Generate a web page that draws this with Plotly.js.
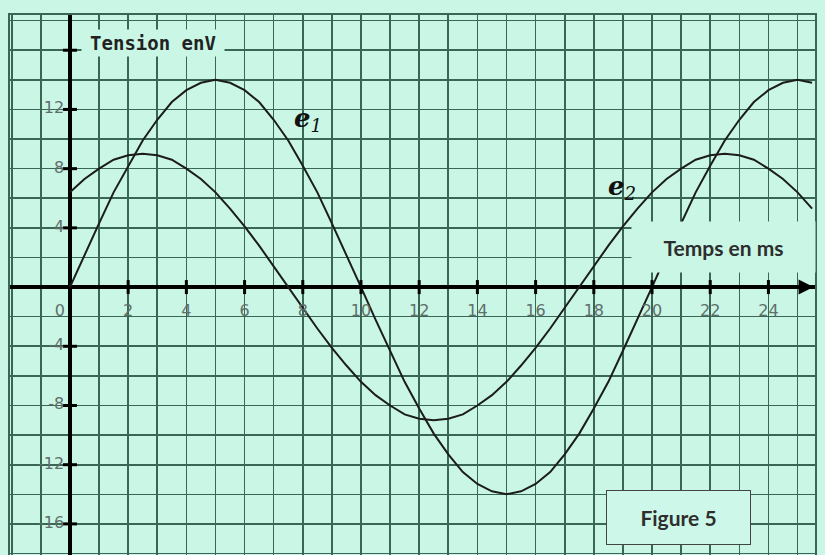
<!DOCTYPE html>
<html>
<head>
<meta charset="utf-8">
<script src="https://cdn.plot.ly/plotly-3.0.1.min.js"></script>
<style>
  html, body { margin: 0; padding: 0; background: #c9f6e5; }
  #chart { width: 825px; height: 555px; }
</style>
</head>
<body>
<div id="chart"></div>
<script>
// Time in ms (read every 0.5 ms)
const time = [0,0.5,1,1.5,2,2.5,3,3.5,4,4.5,5,5.5,6,6.5,7,7.5,8,8.5,9,9.5,
  10,10.5,11,11.5,12,12.5,13,13.5,14,14.5,15,15.5,16,16.5,17,17.5,18,18.5,19,19.5,
  20,20.5,21,21.5,22,22.5,23,23.5,24,24.5,25,25.5];
// e1 tension (V)
const e1 = [0,2.2,4.3,6.4,8.2,9.9,11.3,12.5,13.3,13.8,14,13.8,13.3,12.5,11.3,9.9,8.2,6.4,4.3,2.2,
  0,-2.2,-4.3,-6.4,-8.2,-9.9,-11.3,-12.5,-13.3,-13.8,-14,-13.8,-13.3,-12.5,-11.3,-9.9,-8.2,-6.4,-4.3,-2.2,
  0,2.2,4.3,6.4,8.2,9.9,11.3,12.5,13.3,13.8,14,13.8];
// e2 tension (V)
const e2 = [6.4,7.3,8.0,8.6,8.9,9,8.9,8.6,8.0,7.3,6.4,5.3,4.1,2.8,1.4,0,-1.4,-2.8,-4.1,-5.3,
  -6.4,-7.3,-8.0,-8.6,-8.9,-9,-8.9,-8.6,-8.0,-7.3,-6.4,-5.3,-4.1,-2.8,-1.4,0,1.4,2.8,4.1,5.3,
  6.4,7.3,8.0,8.6,8.9,9,8.9,8.6,8.0,7.3,6.4,5.3];
// axis ticks and labels
const xTicks = [0,2,4,6,8,10,12,14,16,18,20,22,24];
const xTickLabels = ['0','2','4','6','8','10','12','14','16','18','20','22','24'];
const yTicks = [16,12,8,4,-4,-8,-12,-16];
const yLabelTicks = [12,8,4,-4,-8,-12,-16];
const yTickLabels = ['12','8','4','-4','-8','-12','-16'];

const bg = '#c9f6e5';
const gridCol = '#3a6656';
const curveCol = '#1c1c1c';
const labelFont = {family: 'DejaVu Sans', size: 16, color: '#5f6f6a'};

const traces = [
  {x: time, y: e1, mode: 'lines', line: {color: curveCol, width: 2}, name: 'e1'},
  {x: time, y: e2, mode: 'lines', line: {color: curveCol, width: 2}, name: 'e2'},
  // tick marks on the x axis
  {x: xTicks.slice(1), y: xTicks.slice(1).map(() => 0), mode: 'markers',
   marker: {symbol: 'line-ns-open', size: 10, color: '#000', line: {color: '#000', width: 3}}},
  // tick marks on the y axis
  {x: yTicks.map(() => 0), y: yTicks, mode: 'markers',
   marker: {symbol: 'line-ew-open', size: 10, color: '#000', line: {color: '#000', width: 3}}},
  // x tick labels
  {x: xTicks.map(v => v === 0 ? v - 0.35 : v), y: xTicks.map(() => -1.7), mode: 'text',
   text: xTickLabels, textposition: 'middle center', textfont: labelFont},
  // y tick labels
  {x: yLabelTicks.map(() => -0.2), y: yLabelTicks, mode: 'text',
   text: yTickLabels, textposition: 'middle left', textfont: labelFont}
];

const layout = {
  width: 825, height: 555,
  margin: {l: 10, r: 10, t: 15, b: 0, pad: 0},
  paper_bgcolor: bg, plot_bgcolor: bg,
  showlegend: false,
  xaxis: {
    range: [-2.06, 25.6], dtick: 1, tick0: 0,
    showgrid: true, gridcolor: gridCol, gridwidth: 1.6,
    zeroline: true, zerolinecolor: '#000', zerolinewidth: 3.5,
    showticklabels: false, ticks: '',
    showline: true, linecolor: gridCol, linewidth: 1.6, mirror: true
  },
  yaxis: {
    range: [-18.1, 18.38], dtick: 2, tick0: 0,
    showgrid: true, gridcolor: gridCol, gridwidth: 1.6,
    zeroline: true, zerolinecolor: '#000', zerolinewidth: 3.5,
    showticklabels: false, ticks: '',
    showline: true, linecolor: gridCol, linewidth: 1.6, mirror: true
  },
  annotations: [
    {xref: 'paper', yref: 'paper', x: 0.178, y: 0.948, xanchor: 'center', yanchor: 'middle',
     text: '<b>Tension enV</b>', showarrow: false, bgcolor: bg, width: 142, height: 26, borderpad: 0,
     font: {family: 'DejaVu Sans Mono', size: 19, color: '#222'}},
    {xref: 'paper', yref: 'paper', x: 0.886, y: 0.570, xanchor: 'center', yanchor: 'middle',
     text: '<b>Temps en ms</b>', showarrow: false, bgcolor: bg, width: 183, height: 50, borderpad: 0,
     font: {family: 'Lato', size: 21, color: '#2e2e2e'}},
    {xref: 'paper', yref: 'paper', x: 0.8304, y: 0.0694, xanchor: 'center', yanchor: 'middle',
     text: '<b>Figure 5</b>', showarrow: false, bgcolor: '#cdf8e9', width: 143, height: 53, borderpad: 0,
     bordercolor: '#444', borderwidth: 1,
     font: {family: 'Lato', size: 21, color: '#2e2e2e'}},
    {xref: 'paper', yref: 'paper', x: 0.370, y: 0.806, xanchor: 'center', yanchor: 'middle',
     text: '<b><i>e</i></b><sub><i>1</i></sub>', showarrow: false,
     font: {family: 'DejaVu Serif', size: 26, color: '#111'}},
    {xref: 'paper', yref: 'paper', x: 0.760, y: 0.681, xanchor: 'center', yanchor: 'middle',
     text: '<b><i>e</i></b><sub><i>2</i></sub>', showarrow: false,
     font: {family: 'DejaVu Serif', size: 26, color: '#111'}},
    {xref: 'x', yref: 'y', x: 25.55, y: 0, ax: -14, ay: 0, axref: 'pixel', ayref: 'pixel',
     showarrow: true, arrowhead: 2, arrowsize: 1, arrowwidth: 3, arrowcolor: '#000', text: ' '}
  ]
};

Plotly.newPlot('chart', traces, layout, {staticPlot: true, displayModeBar: false});
</script>
</body>
</html>
